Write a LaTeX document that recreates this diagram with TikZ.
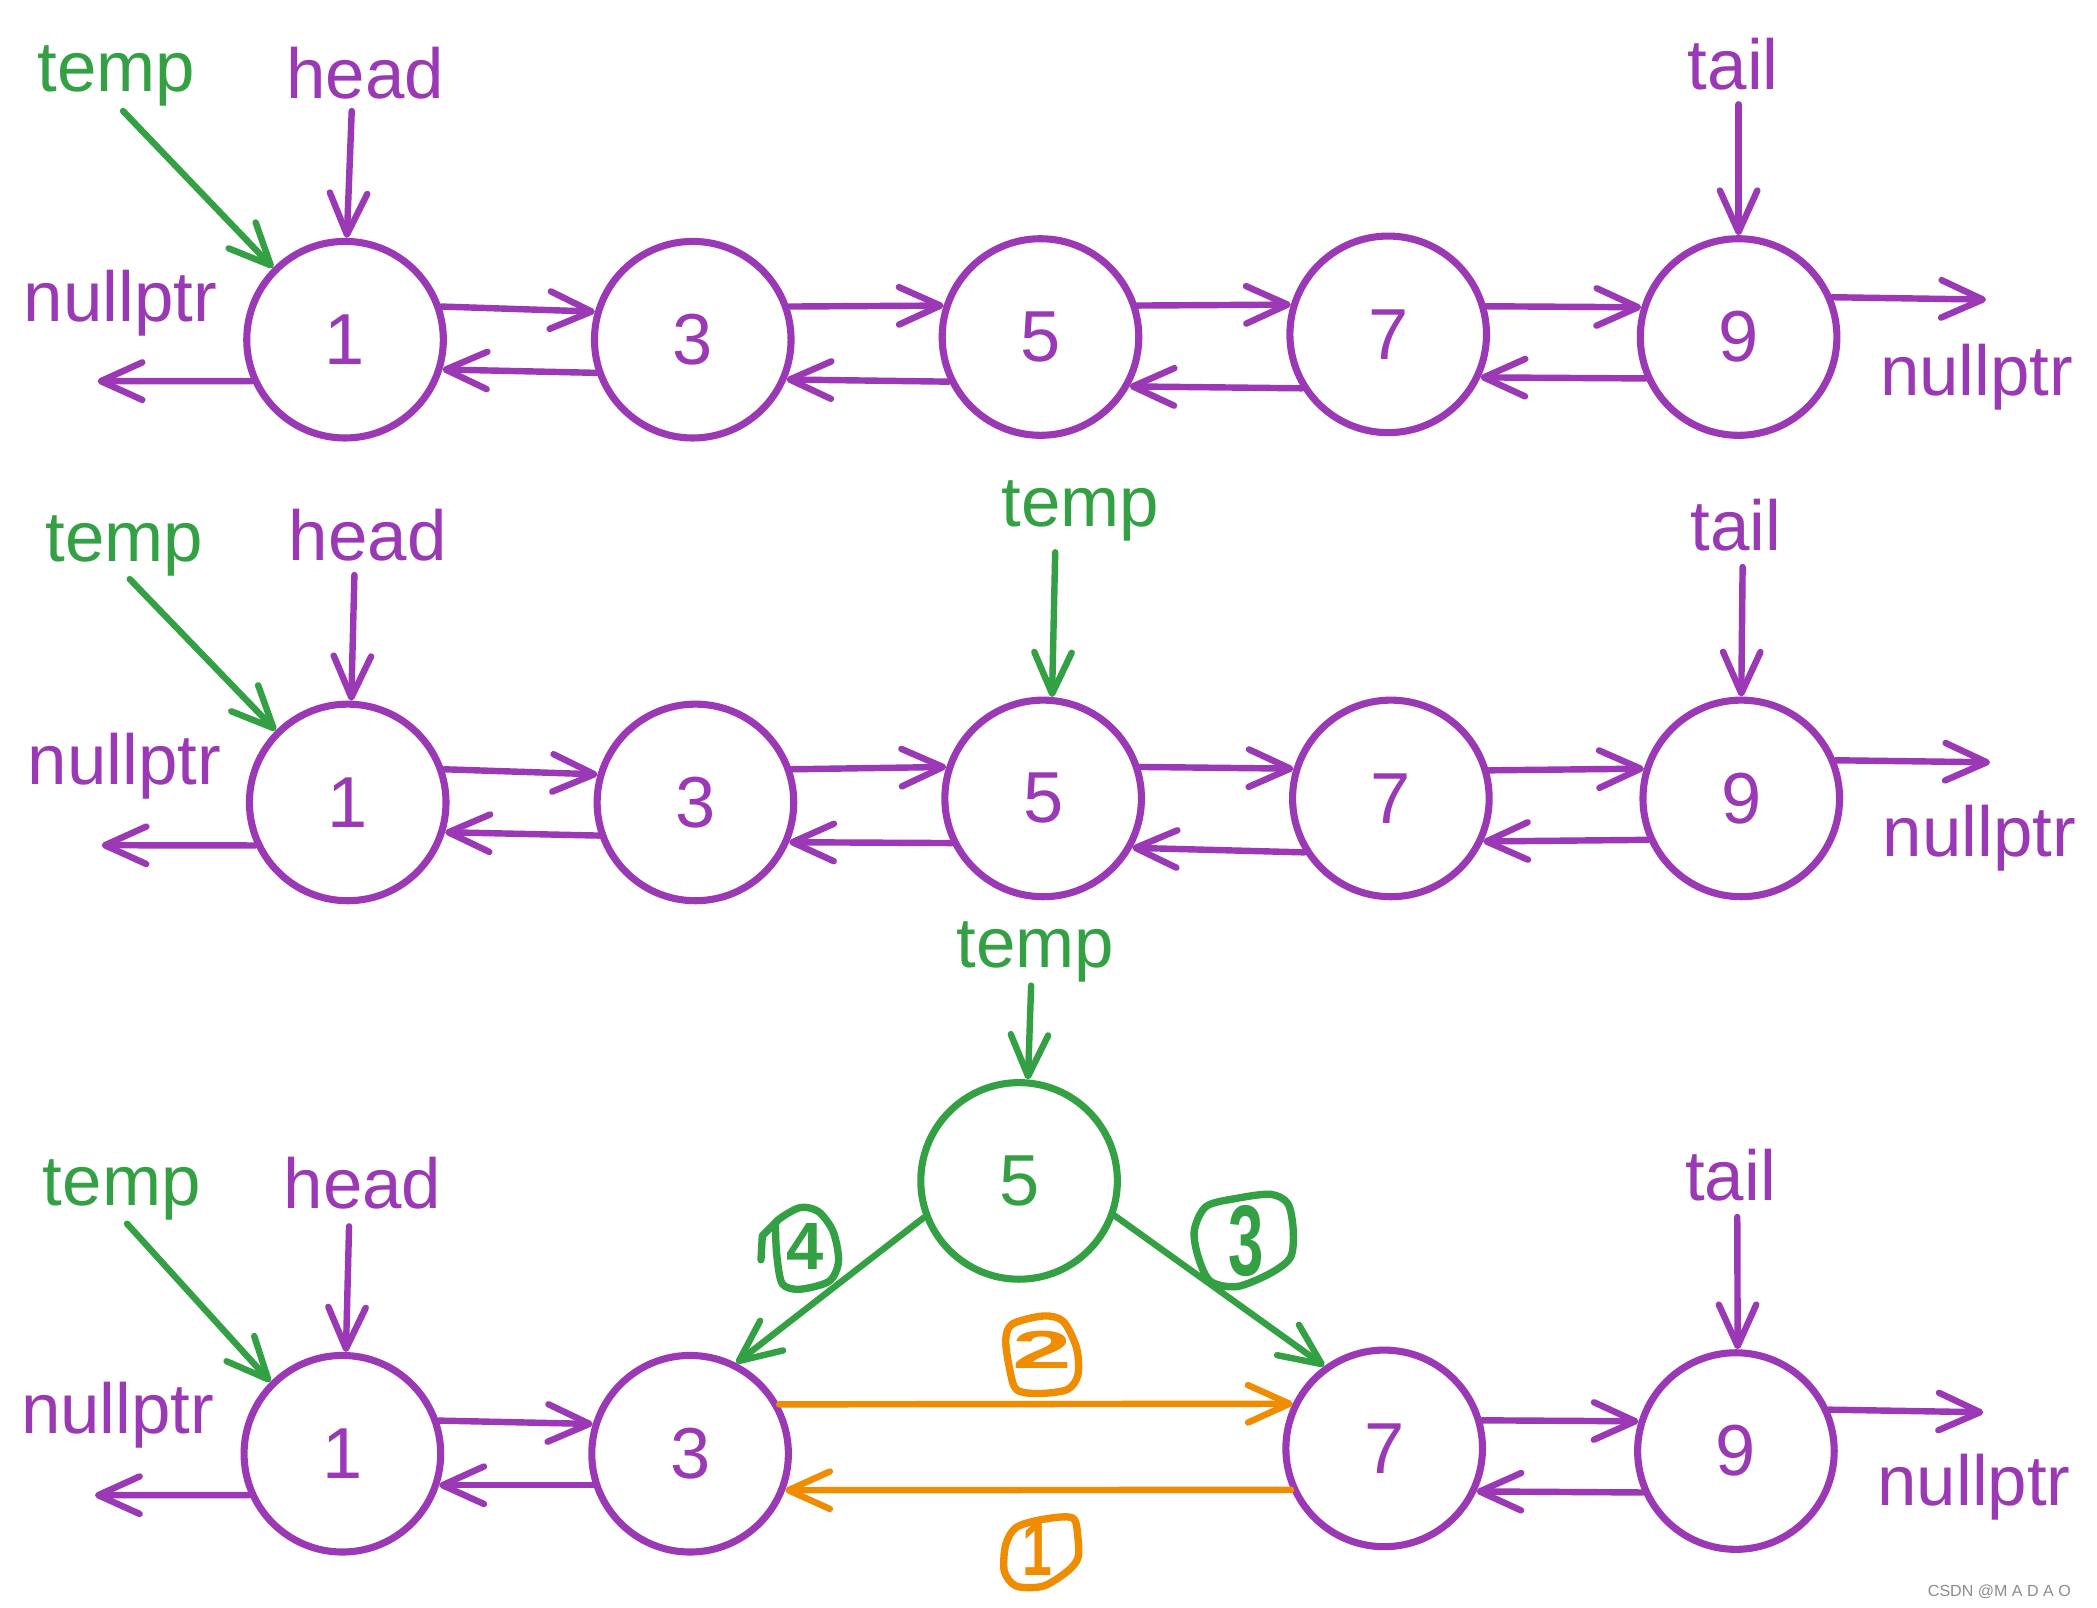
\documentclass[tikz,border=0pt]{standalone}
\usepackage{fontspec}
\setmainfont{Liberation Sans}
\usetikzlibrary{arrows.meta}
\definecolor{pur}{RGB}{155,56,181}
\definecolor{grn}{RGB}{51,160,68}
\definecolor{org}{RGB}{240,140,0}
\begin{document}
\begin{tikzpicture}[x=1pt,y=-1pt,
  nd/.style={circle,draw=pur,line width=5.3pt,minimum size=147pt,inner sep=0pt,text=pur,font=\fontsize{54}{60}\selectfont},
  gnd/.style={nd,draw=grn,text=grn},
  lbl/.style={inner sep=0pt,text=pur,font=\fontsize{53}{60}\selectfont},
  glbl/.style={lbl,text=grn},
  arr/.style={draw=pur,line width=4.8pt,line cap=round,-{Straight Barb[length=31pt,width=28pt,round]}},
  garr/.style={arr,draw=grn},
  oarr/.style={arr,draw=org},
  hnum/.style={inner sep=0pt,font=\fontsize{50}{50}\selectfont\bfseries},
  blob/.style={line width=5.5pt,line cap=round,line join=round}
]
\fill[white] (0,0) rectangle (1568,1202);
\useasboundingbox (0,0) rectangle (1568,1202);

% ---------------- Row 1 ----------------
\node[nd] (a1) at (258,254) {1};
\node[nd] (a3) at (518,254) {3};
\node[nd] (a5) at (778,252) {5};
\node[nd] (a7) at (1038,250) {7};
\node[nd] (a9) at (1300,252) {9};
\draw[arr] (a1.19) -- (a3.164);
\draw[arr] (a3.199) -- (a1.-17);
\draw[arr] (a3.19) -- (a5.162);
\draw[arr] (a5.206) -- (a3.-23);
\draw[arr] (a5.18) -- (a7.163);
\draw[arr] (a7.212) -- (a5.-29);
\draw[arr] (a7.16) -- (a9.163);
\draw[arr] (a9.204) -- (a7.-25);
\coordinate (aR) at (1485,224);
\draw[arr] (a9.23) -- (aR);
\coordinate (aL) at (73,285);
\draw[arr] (a1.204) -- (aL);
\node[lbl] (aNL) at (90,227) {nullptr};
\node[lbl] (aNR) at (1478,282) {nullptr};
\node[glbl] (aT) at (87,57) {temp};
\node[lbl] (aH) at (273,55) {head};
\node[lbl] (aTl) at (1296,48) {tail};
\coordinate (aTs) at (92,83);
\draw[garr] (aTs) -- (a1.135);
\coordinate (aHs) at (263,83);
\draw[arr] (aHs) -- (a1.89);
\coordinate (aTls) at (1300,78);
\draw[arr] (aTls) -- (a9.90);

% ---------------- Row 2 ----------------
\node[nd] (b1) at (260,600) {1};
\node[nd] (b3) at (520,600) {3};
\node[nd] (b5) at (780,597) {5};
\node[nd] (b7) at (1040,597) {7};
\node[nd] (b9) at (1302,597) {9};
\draw[arr] (b1.19) -- (b3.164);
\draw[arr] (b3.199) -- (b1.-17);
\draw[arr] (b3.19) -- (b5.162);
\draw[arr] (b5.206) -- (b3.-23);
\draw[arr] (b5.18) -- (b7.163);
\draw[arr] (b7.212) -- (b5.-29);
\draw[arr] (b7.16) -- (b9.163);
\draw[arr] (b9.204) -- (b7.-25);
\coordinate (bR) at (1488,570);
\draw[arr] (b9.22) -- (bR);
\coordinate (bL) at (76,632);
\draw[arr] (b1.205) -- (bL);
\node[lbl] (bNL) at (93,573) {nullptr};
\node[lbl] (bNR) at (1480,627) {nullptr};
\node[glbl] (bT) at (93,408) {temp};
\node[lbl] (bH) at (275,400) {head};
\node[glbl] (bTm) at (808,382) {temp};
\node[lbl] (bTl) at (1298,393) {tail};
\coordinate (bTs) at (97,433);
\draw[garr] (bTs) -- (b1.135);
\coordinate (bHs) at (265,430);
\draw[arr] (bHs) -- (b1.88);
\coordinate (bTms) at (789,413);
\draw[garr] (bTms) -- (b5.85);
\coordinate (bTls) at (1303,424);
\draw[arr] (bTls) -- (b9.90);

% ---------------- Row 3 ----------------
\node[nd] (c1) at (256,1087) {1};
\node[nd] (c3) at (516,1087) {3};
\node[gnd] (c5) at (762,883) {5};
\node[nd] (c7) at (1035,1083) {7};
\node[nd] (c9) at (1298,1085) {9};
\draw[arr] (c1.19) -- (c3.163);
\draw[arr] (c3.198) -- (c1.-18);
\draw[oarr] (c3.29) -- (c7.154);
\draw[oarr] (c7.204) -- (c3.-21);
\draw[arr] (c7.16) -- (c9.163);
\draw[arr] (c9.204) -- (c7.-25);
\draw[garr] (c5.-159) -- (c3.63);
\draw[garr] (c5.-20) -- (c7.126);
\coordinate (cR) at (1483,1056);
\draw[arr] (c9.24) -- (cR);
\coordinate (cL) at (71,1118);
\draw[arr] (c1.204) -- (cL);
\node[lbl] (cNL) at (88,1058) {nullptr};
\node[lbl] (cNR) at (1476,1112) {nullptr};
\node[glbl] (cTtop) at (774,712) {temp};
\node[glbl] (cT) at (91,890) {temp};
\node[lbl] (cH) at (271,885) {head};
\node[lbl] (cTl) at (1294,879) {tail};
\coordinate (cTtops) at (771,737);
\draw[garr] (cTtops) -- (c5.85);
\coordinate (cTs) at (95,915);
\draw[garr] (cTs) -- (c1.135);
\coordinate (cHs) at (261,917);
\draw[arr] (cHs) -- (c1.88);
\coordinate (cTls) at (1299,910);
\draw[arr] (cTls) -- (c9.89);

% ---------------- hand-drawn step numbers ----------------
\node[hnum,text=grn] (m4) at (602,932) {4};
\draw[grn,blob] plot[smooth cycle] coordinates {(581,913) (598,903) (612,906) (623,921) (627,943) (620,958) (598,964) (585,960) (581,940) (580,922)};
\draw[grn,blob] (569,942) -- (570,924) -- (581,913);

\node[hnum,text=grn] (m3) at (932,928) {\scalebox{0.95}[1.5]{3}};
\draw[grn,blob] plot[smooth cycle] coordinates {(902,902) (925,896) (950,893) (963,900) (967,920) (965,940) (950,952) (925,962) (905,958) (896,940) (893,920)};

\node[hnum,text=org] (m2) at (779,1009) {\scalebox{1.6}[0.8]{2}};
\draw[org,blob] plot[smooth cycle] coordinates {(757,990) (780,984) (795,988) (805,1008) (806,1028) (798,1039) (776,1042) (760,1039) (755,1024) (752,1002)};

\node[hnum,text=org] (m1) at (776,1158) {\scalebox{0.8}[1.15]{1}};
\draw[org,blob] plot[smooth cycle] coordinates {(760,1142) (780,1136) (802,1135) (806,1150) (806,1165) (798,1175) (780,1186) (760,1186) (751,1175) (752,1155)};

% watermark
\node[inner sep=0pt,text=black!45,font=\fontsize{12}{12}\selectfont] (wm) at (1495,1190) {CSDN @M A D A O};
\end{tikzpicture}
\end{document}
